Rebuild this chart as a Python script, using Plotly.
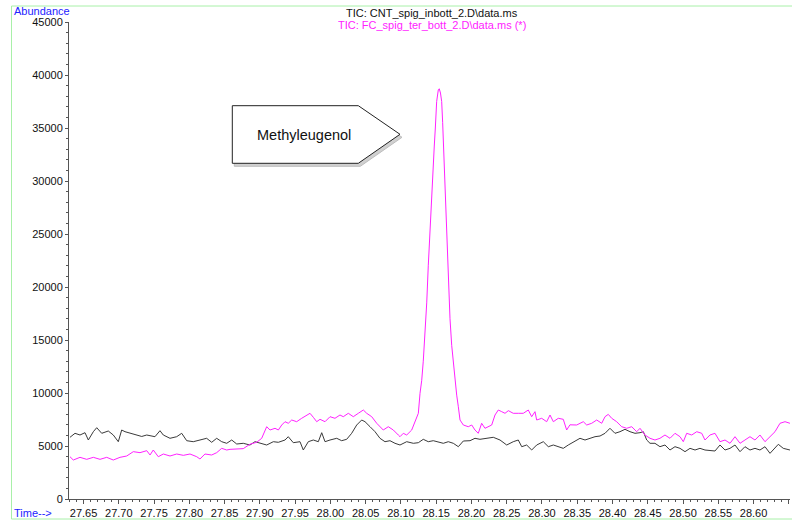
import plotly.graph_objects as go

# ---- TIC traces (retention time in min, abundance) ----
cnt_time = [
    27.6308, 27.6379, 27.6450, 27.6521, 27.6568, 27.6639, 27.6687, 27.6758, 27.6851, 27.6922,
    27.6993, 27.7041, 27.7088, 27.7159, 27.7254, 27.7325, 27.7396, 27.7513, 27.7584, 27.7631,
    27.7726, 27.7821, 27.7892, 27.7963, 27.8056, 27.8151, 27.8246, 27.8317, 27.8388, 27.8459,
    27.8530, 27.8601, 27.8672, 27.8765, 27.8860, 27.8931, 27.9002, 27.9097, 27.9191, 27.9262,
    27.9357, 27.9403, 27.9474, 27.9569, 27.9616, 27.9687, 27.9758, 27.9829, 27.9877, 27.9924,
    27.9995, 28.0090, 28.0160, 28.0231, 28.0302, 28.0373, 28.0444, 28.0491, 28.0562, 28.0633,
    28.0703, 28.0774, 28.0845, 28.0916, 28.0987, 28.1082, 28.1176, 28.1247, 28.1317, 28.1388,
    28.1459, 28.1530, 28.1601, 28.1672, 28.1743, 28.1814, 28.1885, 28.1980, 28.2050, 28.2121,
    28.2216, 28.2310, 28.2405, 28.2500, 28.2593, 28.2664, 28.2713, 28.2783, 28.2854, 28.2925,
    28.3019, 28.3090, 28.3161, 28.3231, 28.3302, 28.3373, 28.3468, 28.3539, 28.3610, 28.3681,
    28.3752, 28.3823, 28.3894, 28.3964, 28.4035, 28.4106, 28.4177, 28.4248, 28.4319, 28.4390,
    28.4437, 28.4485, 28.4532, 28.4602, 28.4673, 28.4744, 28.4815, 28.4886, 28.4957, 28.5028,
    28.5099, 28.5170, 28.5240, 28.5311, 28.5382, 28.5453, 28.5524, 28.5595, 28.5666, 28.5737,
    28.5808, 28.5878, 28.5949, 28.6020, 28.6091, 28.6162, 28.6233, 28.6304, 28.6351, 28.6421,
    28.6516,
]
cnt_abund = [
    5821, 6198, 6038, 6255, 5566, 6349, 6726, 6198, 6415, 6038,
    5406, 6509, 6349, 6198, 6038, 5900, 6038, 5877, 6443, 6038,
    5726, 5877, 6198, 5500, 5406, 5566, 5726, 5349, 5726, 5406,
    5255, 5566, 5189, 5255, 5094, 5406, 5255, 5094, 5406, 5349,
    5566, 5877, 5311, 5406, 4623, 5406, 5566, 5406, 6255, 5406,
    5566, 5726, 5500, 5632, 6198, 6981, 7453, 7292, 6821, 6349,
    5726, 5406, 5500, 5255, 5094, 5406, 5255, 5311, 5632, 5406,
    5500, 5406, 5255, 5406, 5255, 4934, 5472, 5500, 5726, 5632,
    5726, 5821, 5566, 5094, 5406, 5566, 4934, 5094, 4623, 5094,
    5406, 4934, 5094, 4934, 4780, 5094, 5472, 5726, 5566, 5726,
    5877, 5943, 6198, 6670, 6198, 6349, 6575, 6349, 6198, 6255,
    6349, 5566, 5255, 5255, 4934, 5094, 4623, 4934, 4780, 4465,
    4780, 4623, 4780, 4623, 4560, 4528, 5094, 4623, 4780, 5094,
    4465, 4934, 4623, 4780, 4623, 4934, 4308, 4780, 5160, 4780,
    4623,
]

fc_time = [
    27.6308, 27.6355, 27.6450, 27.6545, 27.6639, 27.6734, 27.6829, 27.6922, 27.7017, 27.7112,
    27.7206, 27.7301, 27.7396, 27.7443, 27.7489, 27.7560, 27.7631, 27.7726, 27.7821, 27.7915,
    27.8010, 27.8105, 27.8151, 27.8222, 27.8317, 27.8388, 27.8459, 27.8530, 27.8577, 27.8672,
    27.8765, 27.8860, 27.8955, 27.9026, 27.9049, 27.9097, 27.9144, 27.9215, 27.9262, 27.9310,
    27.9357, 27.9403, 27.9452, 27.9522, 27.9593, 27.9664, 27.9711, 27.9758, 27.9806, 27.9853,
    27.9924, 27.9995, 28.0065, 28.0136, 28.0183, 28.0254, 28.0325, 28.0396, 28.0467, 28.0515,
    28.0586, 28.0657, 28.0703, 28.0750, 28.0821, 28.0892, 28.0963, 28.0987, 28.1034, 28.1082,
    28.1153, 28.1200, 28.1247, 28.1271, 28.1295, 28.1317, 28.1341, 28.1366, 28.1388, 28.1412,
    28.1436, 28.1459, 28.1473, 28.1488, 28.1507, 28.1530, 28.1544, 28.1561, 28.1578, 28.1592,
    28.1611, 28.1632, 28.1653, 28.1675, 28.1696, 28.1720, 28.1743, 28.1767, 28.1791, 28.1814,
    28.1838, 28.1885, 28.1955, 28.2004, 28.2050, 28.2097, 28.2145, 28.2192, 28.2239, 28.2287,
    28.2334, 28.2381, 28.2429, 28.2476, 28.2523, 28.2593, 28.2664, 28.2735, 28.2806, 28.2854,
    28.2901, 28.2925, 28.2996, 28.3067, 28.3114, 28.3161, 28.3231, 28.3302, 28.3350, 28.3397,
    28.3492, 28.3586, 28.3634, 28.3705, 28.3776, 28.3847, 28.3894, 28.3940, 28.3989, 28.4059,
    28.4130, 28.4201, 28.4272, 28.4343, 28.4390, 28.4461, 28.4532, 28.4602, 28.4673, 28.4744,
    28.4815, 28.4886, 28.4957, 28.5004, 28.5052, 28.5123, 28.5194, 28.5265, 28.5311, 28.5382,
    28.5453, 28.5524, 28.5595, 28.5666, 28.5737, 28.5808, 28.5878, 28.5949, 28.6020, 28.6091,
    28.6162, 28.6233, 28.6304, 28.6375, 28.6446, 28.6516,
]
fc_abund = [
    3990, 3679, 3930, 3742, 3930, 3742, 3930, 3679, 3930, 4057,
    4465, 4371, 4559, 4151, 4623, 3990, 4245, 4057, 4245, 4120,
    4245, 3990, 3774, 4245, 4151, 4371, 4780, 4623, 4686, 4717,
    4750, 5170, 5350, 5726, 6038, 6821, 6509, 6670, 6509, 6981,
    7292, 7142, 7453, 7292, 7613, 7925, 8085, 7708, 7292, 7519,
    7292, 7764, 7613, 7925, 7764, 8085, 7764, 8085, 8396, 8085,
    7764, 7142, 6821, 6509, 6821, 6509, 6038, 5877, 6198, 6038,
    6509, 7292, 8085, 9970, 11200, 13000, 15500, 18500, 22000, 25500,
    29000, 31800, 33300, 35000, 37500, 38600, 38700, 38300, 37500, 35500,
    32000, 28000, 24000, 20000, 17000, 14500, 12800, 11200, 9800, 8700,
    7450, 6981, 6821, 6981, 6509, 6198, 7142, 6670, 6821, 6981,
    7925, 8396, 8240, 8085, 8333, 8085, 8085, 8085, 8396, 7764,
    8240, 7453, 7613, 7292, 7925, 7292, 7613, 7519, 6509, 7000,
    6981, 7292, 6981, 7142, 7453, 7142, 7764, 7985, 7613, 7292,
    6821, 6670, 6821, 6349, 6670, 6038, 5726, 5566, 5726, 6038,
    5726, 6198, 5877, 5406, 6198, 6038, 6349, 6198, 5566, 6038,
    6198, 5406, 5566, 5255, 5877, 5255, 5566, 5877, 5566, 6038,
    5406, 5877, 6349, 7142, 7292, 7142,
]

x_tick_vals = [27.65, 27.70, 27.75, 27.80, 27.85, 27.90, 27.95, 28.00, 28.05, 28.10,
               28.15, 28.20, 28.25, 28.30, 28.35, 28.40, 28.45, 28.50, 28.55, 28.60, 28.65]
x_tick_text = ["27.65", "27.70", "27.75", "27.80", "27.85", "27.90", "27.95", "28.00", "28.05", "28.10",
               "28.15", "28.20", "28.25", "28.30", "28.35", "28.40", "28.45", "28.50", "28.55", "28.60", ""]

title_lines = ["TIC: CNT_spig_inbott_2.D\\data.ms", "TIC: FC_spig_ter_bott_2.D\\data.ms (*)"]
peak_label = "Methyleugenol"

# ---- page geometry (pixels) ----
W, H = 792, 520
ML, MR, MT, MB = 69, 2, 22, 21
PW, PH = W - ML - MR, H - MT - MB
FONT = "Liberation Sans, Arial, Helvetica, sans-serif"


def px(x):
    return (x - ML) / PW


def py(y):
    return (H - MB - y) / PH


def poly(points):
    return "M " + " L ".join(f"{px(a):.5f},{py(b):.5f}" for a, b in points) + " Z"


fig = go.Figure()
fig.add_trace(go.Scatter(x=cnt_time, y=cnt_abund, mode="lines",
                         line=dict(color="#3a3a3a", width=1), showlegend=False))
fig.add_trace(go.Scatter(x=fc_time, y=fc_abund, mode="lines",
                         line=dict(color="#ff22ff", width=1), showlegend=False))

# label box: arrow-shaped pentagon with a grey drop shadow
box = [(232.3, 105.7), (358.3, 105.7), (400, 134.3), (358.3, 163.3), (232.3, 163.3)]
shadow = [(a + 2, b + 3) for a, b in box]
shapes = [
    dict(type="rect", xref="paper", yref="paper", x0=px(11.5), x1=px(805), y0=py(6), y1=py(519),
         line=dict(color="#a8f0a8", width=1), fillcolor="rgba(0,0,0,0)", layer="below"),
    dict(type="path", xref="paper", yref="paper", path=poly(shadow),
         fillcolor="#d0d0d0", line=dict(color="#bdbdbd", width=1)),
    dict(type="path", xref="paper", yref="paper", path=poly(box),
         fillcolor="white", line=dict(color="#222222", width=1)),
]

annotations = [
    dict(text=title_lines[0], x=px(432), y=py(12.5), xref="paper", yref="paper",
         showarrow=False, font=dict(family=FONT, size=11, color="#111111"), xanchor="center", yanchor="middle"),
    dict(text=title_lines[1], x=px(432), y=py(25), xref="paper", yref="paper",
         showarrow=False, font=dict(family=FONT, size=11, color="#ff22ff"), xanchor="center", yanchor="middle"),
    dict(text="Abundance", x=px(12), y=py(11.5), xref="paper", yref="paper",
         showarrow=False, font=dict(family=FONT, size=11, color="#2222ff"), xanchor="left", yanchor="middle"),
    dict(text="Time-->", x=px(12), y=py(513), xref="paper", yref="paper",
         showarrow=False, font=dict(family=FONT, size=11, color="#2222ff"), xanchor="left", yanchor="middle"),
    dict(text=peak_label, x=px(304), y=py(135), xref="paper", yref="paper",
         showarrow=False, font=dict(family=FONT, size=14.5, color="#111111"), xanchor="center", yanchor="middle"),
]

x0 = 27.6294
x1 = x0 + PW / 705.3

fig.update_layout(
    width=W, height=H,
    margin=dict(l=ML, r=MR, t=MT, b=MB, pad=0),
    paper_bgcolor="white", plot_bgcolor="white",
    font=dict(family=FONT, size=11, color="#111111"),
    shapes=shapes, annotations=annotations,
    xaxis=dict(range=[x0, x1], showgrid=False, zeroline=False,
               showline=True, linecolor="#555555", linewidth=1,
               tickmode="array", tickvals=x_tick_vals, ticktext=x_tick_text,
               ticks="outside", ticklen=4, tickcolor="#555555", tickwidth=1,
               tickfont=dict(family=FONT, size=11, color="#111111"),
               minor=dict(dtick=0.01, tick0=27.65, ticks="outside", ticklen=2,
                          tickcolor="#555555", tickwidth=1, showgrid=False)),
    yaxis=dict(range=[0, 45000], showgrid=False, zeroline=False,
               showline=True, linecolor="#555555", linewidth=1,
               tick0=0, dtick=5000, tickformat="d",
               ticks="outside", ticklen=3, tickcolor="#555555", tickwidth=1,
               tickfont=dict(family=FONT, size=11, color="#111111"),
               minor=dict(dtick=1000, ticks="outside", ticklen=2,
                          tickcolor="#555555", tickwidth=1, showgrid=False)),
)

fig.write_html("out.html")
